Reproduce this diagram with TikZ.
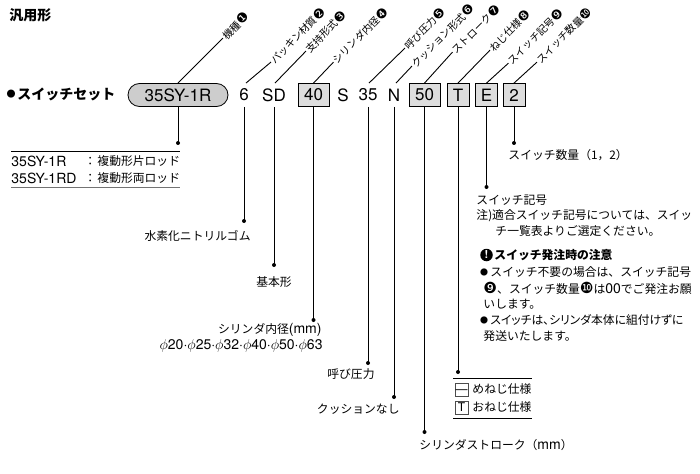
\documentclass[tikz,border=0pt]{standalone}
\usepackage{fontspec}
\setmainfont{Noto Sans CJK JP}
\newfontfamily\lf{TeX Gyre Heros}
\newfontfamily\djv{DejaVu Sans}[Scale=1.3]
\usetikzlibrary{calc}
\newcommand{\la}[1]{{\lf\fontsize{14}{16}\selectfont #1}}
\newcommand{\cnum}[1]{{\djv #1}}
\definecolor{boxgray}{RGB}{221,221,221}
\definecolor{pillgray}{RGB}{205,205,205}
\begin{document}
\begin{tikzpicture}[x=1pt,y=-1pt,font=\fontsize{11.8}{14}\selectfont,line width=0.9pt,
  code/.style={font=\lf\fontsize{17}{17}\selectfont,inner sep=0pt,minimum height=23pt},
  cbox/.style={draw,fill=boxgray,line width=0.8pt,inner sep=0pt,minimum height=23pt,minimum width=31pt,font=\lf\fontsize{17}{17}\selectfont},
  pill/.style={draw,fill=pillgray,line width=0.8pt,rounded corners=11.5pt,inner sep=0pt,minimum height=23pt,minimum width=100pt,font=\lf\fontsize{17}{17}\selectfont},
  dotn/.style={circle,fill=black,inner sep=0pt,minimum size=4pt},
  rlab/.style={rotate=45,anchor=west,inner sep=0.8pt,font=\fontsize{10.2}{11}\selectfont},
  lab/.style={inner sep=0pt},
  sbox/.style={draw=black!70,line width=0.5pt,inner sep=0pt,minimum width=13pt,minimum height=13pt},
  bul/.style={inner sep=0pt,font=\fontsize{8}{8}\selectfont},
  warn/.style={circle,fill=black,text=white,inner sep=0pt,minimum size=12.5pt,font=\lf\bfseries\fontsize{11}{11}\selectfont}]
\useasboundingbox (0,0) rectangle (700,473);

% title and series
\node[lab,anchor=west,font=\bfseries\fontsize{14}{16}\selectfont] (title) at (9,15) {汎用形};
\node[bul,font=\fontsize{9}{9}\selectfont] (b0) at (11,94) {●};
\node[lab,anchor=west,font=\bfseries\fontsize{14}{16}\selectfont] (ser) at (17,94) {スイッチセット};

% code row
\node[pill] (p) at (178,95) {35SY-1R};
\node[code] (c6) at (244,95) {6};
\node[code] (cSD) at (274,95) {SD};
\node[cbox] (b40) at (313.5,95) {40};
\node[code] (cS) at (343,95) {S};
\node[code] (c35) at (368,95) {35};
\node[code] (cN) at (394,95) {N};
\node[cbox] (b50) at (424.5,95) {50};
\node[cbox,minimum width=22pt] (bT) at (458,95) {T};
\node[cbox,minimum width=22pt] (bE) at (486.5,95) {E};
\node[cbox,minimum width=22pt] (b2) at (514,95) {2};

% upper labels
\coordinate (u1) at (p.north);
\coordinate (u2) at ($(c6.north)+(2,0)$);
\coordinate (u3) at ($(cSD.north)+(1,0)$);
\coordinate (u4) at (b40.north);
\coordinate (u5) at ($(c35.north)+(1,0)$);
\coordinate (u6) at ($(cN.north)+(2,0)$);
\coordinate (u7) at (b50.north);
\coordinate (u8) at (bT.north);
\coordinate (u9) at (bE.north);
\coordinate (u10) at (b2.north);
\path (u1) ++(45,-45) node[rlab] (l1) {機種\cnum{❶}};
\path (u2) ++(25,-21) node[rlab] (l2) {パッキン材質\cnum{❷}};
\path (u3) ++(31,-32) node[rlab] (l3) {支持形式\cnum{❸}};
\path (u4) ++(20,-21) node[rlab] (l4) {シリンダ内径\cnum{❹}};
\path (u5) ++(36,-35) node[rlab] (l5) {呼び圧力\cnum{❺}};
\path (u6) ++(16,-17) node[rlab] (l6) {クッション形式\cnum{❻}};
\path (u7) ++(28,-31) node[rlab] (l7) {ストローク\cnum{❼}};
\path (u8) ++(32,-33) node[rlab] (l8) {ねじ仕様\cnum{❽}};
\path (u9) ++(22,-20) node[rlab] (l9) {スイッチ記号\cnum{❾}};
\path (u10) ++(23,-21) node[rlab] (l10) {スイッチ数量\cnum{❿}};
\foreach \i in {1,...,10} { \draw (u\i) -- (l\i.west); }

% lower dots
\node[dotn] (d1) at (p.south |- 0,143) {};
\node[dotn] (d2) at (c6.south |- 0,221) {};
\node[dotn] (d3) at (cSD.south |- 0,265) {};
\node[dotn] (d4) at (b40.south |- 0,320) {};
\node[dotn] (d5) at (c35.south |- 0,363) {};
\node[dotn] (d6) at (cN.south |- 0,397) {};
\node[dotn] (d7) at (b50.south |- 0,432) {};
\node[dotn] (d8) at (bT.south |- 0,372) {};
\node[dotn] (d9) at (bE.south |- 0,187) {};
\node[dotn] (d10) at (b2.south |- 0,143) {};
\draw (p.south) -- (d1.center);
\draw (c6.south) -- (d2.center);
\draw (cSD.south) -- (d3.center);
\draw (b40.south) -- (d4.center);
\draw (c35.south) -- (d5.center);
\draw (cN.south) -- (d6.center);
\draw (b50.south) -- (d7.center);
\draw (bT.south) -- (d8.center);
\draw (bE.south) -- (d9.center);
\draw (b2.south) -- (d10.center);

% model table
\draw[line width=0.8pt] (11,151) -- (180,151);
\draw[line width=0.8pt,black!55] (11,187) -- (180,187);
\node[lab,anchor=west] (m1a) at (11,161) {\la{35SY-1R}};
\node[lab,anchor=west] (m1b) at (84,161) {：};
\node[lab,anchor=west] (m1c) at (97,161) {複動形片ロッド};
\node[lab,anchor=west] (m2a) at (11,178) {\la{35SY-1RD}};
\node[lab,anchor=west] (m2b) at (84,178) {：};
\node[lab,anchor=west] (m2c) at (97,178) {複動形両ロッド};

% lower labels
\node[lab,anchor=east] (t2) at (251,236) {水素化ニトリルゴム};
\node[lab] (t3) at (274,282) {基本形};
\node[lab,anchor=east] (t4a) at (322,330) {シリンダ内径\la{(mm)}};
\node[lab,anchor=east] (t4b) at (323,346) {\la{$\phi$20·$\phi$25·$\phi$32·$\phi$40·$\phi$50·$\phi$63}};
\node[lab,anchor=east] (t5) at (375,374) {呼び圧力};
\node[lab,anchor=east] (t6) at (400,409) {クッションなし};
\node[lab,anchor=west] (t7) at (419,445) {シリンダストローク（\la{mm}）};

% thread table
\draw[line width=0.8pt] (453,378) -- (532,378);
\draw[line width=0.8pt] (453,418) -- (532,418);
\node[sbox] (s1) at (461.5,389.5) {\lf\fontsize{12}{12}\selectfont\vphantom{T}—};
\node[sbox] (s2) at (461.5,407.5) {\lf\fontsize{12}{12}\selectfont T};
\node[lab,anchor=west] (t8a) at (472,389.5) {めねじ仕様};
\node[lab,anchor=west] (t8b) at (472,407.5) {おねじ仕様};

% switch labels
\node[lab,anchor=west] (t10) at (508,155) {スイッチ数量（1，2）};
\node[lab,anchor=west] (t9a) at (476,200) {スイッチ記号};
\node[lab,anchor=west] (t9b) at (476,216) {注)適合スイッチ記号については、スイッ};
\node[lab,anchor=west] (t9c) at (495,231) {チ一覧表よりご選定ください。};

% notes
\node[warn] (w) at (486.5,255) {!};
\node[lab,anchor=west,font=\bfseries\fontsize{11.8}{14}\selectfont] (n0) at (494,255) {スイッチ発注時の注意};
\node[bul] (nb1) at (484,272) {●};
\node[lab,anchor=west] (n1) at (490,272) {スイッチ不要の場合は、スイッチ記号};
\node[lab,anchor=west] (n2) at (483,288) {\cnum{❾}、スイッチ数量\cnum{❿}は\la{00}でご発注お願};
\node[lab,anchor=west] (n3) at (483,304) {いします。};
\node[bul] (nb2) at (484,320) {●};
\node[lab,anchor=west] (n4) at (490,320) {\addfontfeatures{RawFeature=+palt}スイッチは、シリンダ本体に組付けずに};
\node[lab,anchor=west] (n5) at (483,336) {発送いたします。};
\end{tikzpicture}
\end{document}
